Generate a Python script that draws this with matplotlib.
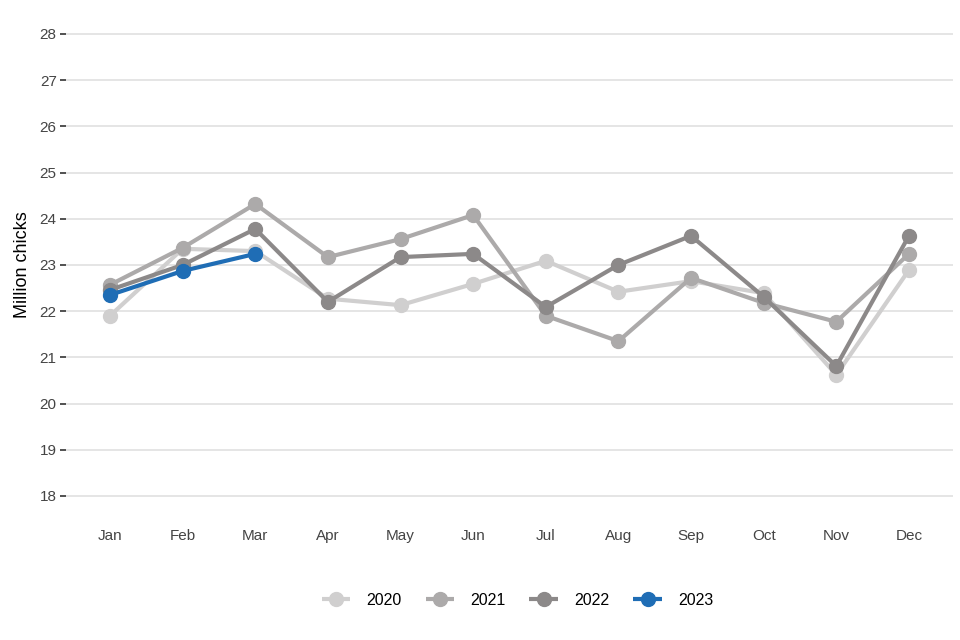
import matplotlib
matplotlib.use("Agg")
import matplotlib.pyplot as plt

plt.rcParams['font.family'] = ['Liberation Sans', 'DejaVu Sans']

# 月ラベル
months = ["Jan", "Feb", "Mar", "Apr", "May", "Jun", "Jul", "Aug", "Sep", "Oct", "Nov", "Dec"]

# 各年の値 (Million chicks)
chicks_2020 = [21.90, 23.35, 23.30, 22.27, 22.13, 22.59, 23.09, 22.42, 22.65, 22.39, 20.62, 22.89]
chicks_2021 = [22.57, 23.37, 24.32, 23.17, 23.56, 24.08, 21.90, 21.35, 22.72, 22.18, 21.77, 23.24]
chicks_2022 = [22.46, 23.00, 23.78, 22.20, 23.17, 23.24, 22.09, 23.00, 23.63, 22.31, 20.81, 23.63]
chicks_2023 = [22.35, 22.87, 23.24]

years = ["2020", "2021", "2022", "2023"]
colors = ["#d0cfcf", "#acaaaa", "#8c8989", "#1f6db5"]

fig = plt.figure(figsize=(9.6, 6.4), dpi=100)
ax = fig.add_axes([0.0692, 0.189, 0.923, 0.794])

x = list(range(len(months)))
series = [chicks_2020, chicks_2021, chicks_2022, chicks_2023]
for yr, vals, c in zip(years, series, colors):
    ax.plot(x[:len(vals)], vals, color=c, lw=3.0, marker="o", markersize=10,
            label=yr, solid_capstyle="butt", zorder=3)

ax.set_xlim(-0.6, 11.6)
ax.set_ylim(17.5, 28.5)
ax.set_yticks(range(18, 29))
ax.set_xticks(x)
ax.set_xticklabels(months)

# グリッドと軸の設定
ax.grid(axis="y", color="#e3e3e3", lw=1.3, zorder=0)
ax.grid(axis="x", visible=False)
for s in ax.spines.values():
    s.set_visible(False)
ax.tick_params(axis="y", length=4, width=1.2, color="#333333", labelcolor="#444444", labelsize=11, pad=3)
ax.tick_params(axis="x", length=0, labelcolor="#444444", labelsize=11, pad=7)
ax.set_ylabel("Million chicks", fontsize=13, color="#000000", labelpad=6)

# 凡例
ax.legend(loc="center", bbox_to_anchor=(0.509, -0.16), ncol=4, frameon=False,
          fontsize=11.5, handlelength=1.8, columnspacing=1.5, handletextpad=1.0)

fig.savefig("out.png", dpi=100)
